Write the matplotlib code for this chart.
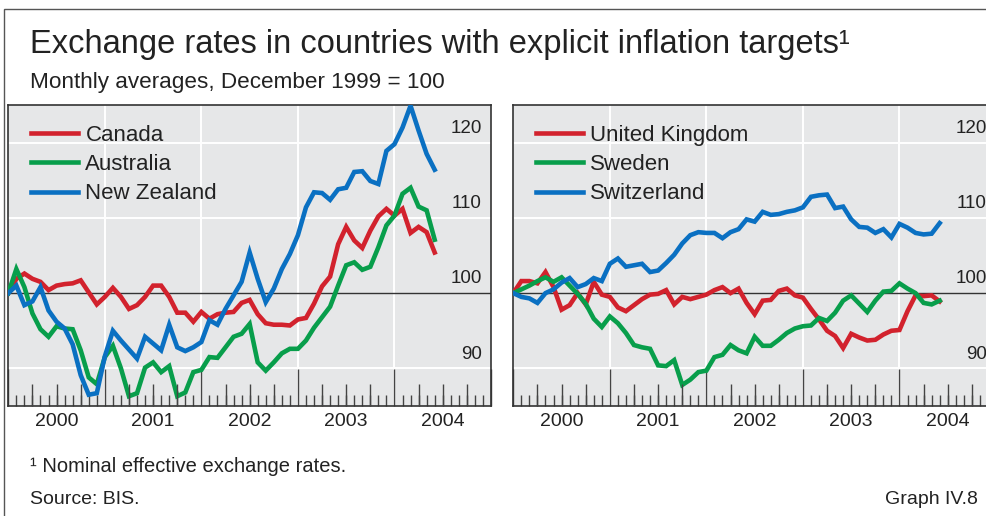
import numpy as np
import pandas as pd
import matplotlib
matplotlib.use('Agg')
import matplotlib.pyplot as plt
from matplotlib.patches import Rectangle

plt.rcParams['font.family'] = ['Liberation Sans', 'DejaVu Sans']

# Monthly averages, Dec 1999 = 100 (Dec 1999 .. May 2004)
months = pd.date_range('1999-12-01', periods=54, freq='MS')

canada = [100, 101.9, 102.6, 101.9, 101.5, 100.4, 101.0, 101.2, 101.3, 101.7,
          100.1, 98.5, 99.5, 100.7, 99.5, 97.9, 98.4, 99.5, 101.0, 101.0,
          99.5, 97.4, 97.4, 96.2, 97.5, 96.6, 97.2, 97.4, 97.5, 98.7,
          99.1, 97.2, 96.0, 95.8, 95.8, 95.7, 96.5, 96.7, 98.6, 100.9,
          102.2, 106.5, 108.8, 107.0, 106.0, 108.3, 110.2, 111.2, 110.3, 111.2,
          108.0, 108.8, 108.1, 105.4]
australia = [100, 103.2, 100.8, 97.3, 95.2, 94.2, 95.6, 95.3, 95.2, 92.4,
             88.8, 87.9, 91.5, 93.0, 90.0, 86.3, 86.7, 90.1, 90.8, 89.5,
             90.3, 86.3, 86.8, 89.5, 89.8, 91.5, 91.4, 92.8, 94.2, 94.6,
             95.9, 90.8, 89.7, 90.8, 92.0, 92.6, 92.6, 93.7, 95.4, 96.8,
             98.2, 101.0, 103.7, 104.1, 103.1, 103.5, 106.1, 109.0, 110.3, 113.2,
             114.0, 111.5, 111.0, 107.1]
new_zealand = [100, 101.0, 98.4, 98.9, 100.8, 97.7, 96.2, 95.3, 93.2, 89.1,
               86.5, 86.7, 91.6, 95.0, 93.7, 92.5, 91.3, 94.2, 93.3, 92.4,
               95.8, 92.8, 92.3, 92.8, 93.5, 96.4, 95.8, 97.9, 99.7, 101.5,
               105.4, 101.9, 98.8, 100.6, 103.2, 105.2, 107.7, 111.4, 113.4, 113.3,
               112.4, 113.8, 114.0, 116.1, 116.2, 114.9, 114.5, 118.9, 119.8, 122.0,
               124.9, 121.6, 118.5, 116.4]
united_kingdom = [100, 101.6, 101.6, 101.3, 102.8, 100.8, 97.8, 98.4, 100.0, 98.5,
                  101.5, 99.8, 99.5, 98.1, 97.6, 98.4, 99.2, 99.8, 99.9, 100.4,
                  98.5, 99.5, 99.2, 99.5, 99.8, 100.4, 100.8, 100.0, 100.6, 98.7,
                  97.2, 99.0, 99.1, 100.3, 100.6, 99.7, 99.4, 97.9, 96.5, 95.0,
                  94.3, 92.7, 94.6, 94.1, 93.7, 93.8, 94.5, 95.0, 95.1, 97.6,
                  99.7, 99.6, 99.7, 98.9]
sweden = [100, 100.5, 101.0, 101.6, 102.1, 101.5, 102.1, 101.0, 99.9, 98.6,
          96.6, 95.5, 96.9, 96.0, 94.7, 93.1, 92.8, 92.6, 90.4, 90.3,
          91.1, 87.8, 88.5, 89.5, 89.7, 91.5, 91.8, 93.1, 92.4, 92.0,
          94.2, 93.0, 93.0, 93.8, 94.7, 95.3, 95.6, 95.7, 96.7, 96.3,
          97.4, 99.0, 99.7, 98.6, 97.5, 99.0, 100.2, 100.3, 101.3, 100.6,
          100.0, 98.7, 98.5, 99.0]
switzerland = [100, 99.5, 99.3, 98.7, 100.0, 100.5, 101.4, 102.0, 100.8, 101.2,
               102.0, 101.6, 103.9, 104.6, 103.5, 103.7, 103.9, 102.8, 103.0, 104.0,
               105.1, 106.6, 107.7, 108.1, 108.0, 108.0, 107.3, 108.1, 108.5, 109.8,
               109.5, 110.8, 110.4, 110.5, 110.8, 111.0, 111.4, 112.8, 113.0, 113.1,
               111.3, 111.5, 109.8, 108.8, 108.7, 108.0, 108.5, 107.4, 109.2, 108.7,
               108.0, 107.8, 107.9, 109.3]

years = [2000, 2001, 2002, 2003, 2004]
y_ticks = [90, 100, 110, 120]

panels = [
    (['Canada', 'Australia', 'New Zealand'], [canada, australia, new_zealand]),
    (['United Kingdom', 'Sweden', 'Switzerland'], [united_kingdom, sweden, switzerland]),
]
colors = ['#d2222d', '#089e4b', '#0a70c2']

xpos = months.year + months.month / 12.0

fig = plt.figure(figsize=(9.86, 5.16), dpi=100)
W, H = 986.0, 516.0

# outer frame
fig.add_artist(Rectangle((4 / W, -0.1), 1.2, (H - 9) / H + 0.1, transform=fig.transFigure,
                         fill=False, edgecolor='#555555', lw=1.0))

txt = '#222222'
fig.text(30 / W, 1 - 45 / H, 'Exchange rates in countries with explicit inflation targets\u00b9',
         fontsize=23.5, color=txt, va='center', ha='left')
fig.text(30 / W, 1 - 82 / H, 'Monthly averages, December 1999 = 100',
         fontsize=16.2, color=txt, va='center', ha='left')
fig.text(30 / W, 1 - 467 / H, '\u00b9 Nominal effective exchange rates.',
         fontsize=14.5, color=txt, va='center', ha='left')
fig.text(30 / W, 1 - 500 / H, 'Source: BIS.', fontsize=14, color=txt, va='center', ha='left')
fig.text(978 / W, 1 - 500 / H, 'Graph IV.8', fontsize=14, color=txt, va='center', ha='right')

ax_w = 482.7 / W
ax_h = 301 / H
ax_b = 1 - 406 / H
for left_px, (names, series) in zip([8.3, 513.3], panels):
    ax = fig.add_axes([left_px / W, ax_b, ax_w, ax_h])
    ax.set_facecolor('#e6e7e8')
    ax.set_xlim(2000, 2005)
    ax.set_ylim(85, 125)
    for yt in y_ticks:
        if yt == 100:
            ax.axhline(yt, color='#333333', lw=1.0, zorder=2)
        else:
            ax.axhline(yt, color='white', lw=1.4, zorder=1)
        ax.text(0.981, yt + 1.9, str(yt), transform=ax.get_yaxis_transform(),
                ha='right', va='center', fontsize=13.5, color=txt)
    for yr in years[1:]:
        ax.axvline(yr, color='white', lw=1.4, zorder=1)
    for name, vals, c in zip(names, series, colors):
        ax.plot(xpos, vals, color=c, lw=3.3, label=name, zorder=3,
                solid_joinstyle='miter')
    # ticks: years long, quarters medium, months short
    ax.set_xticks(years + [2005])
    ax.set_xticks(np.arange(2000, 2005, 1 / 12), minor=True)
    ax.tick_params(axis='x', which='major', direction='in', length=27, width=1.0,
                   color='#444444', labelbottom=False)
    ax.tick_params(axis='x', which='minor', direction='in', length=7.7, width=1.0,
                   color='#444444')
    quarters = [y + q / 4 for y in years for q in (1, 2, 3)]
    ax.vlines(quarters, 0, 22 / 301, transform=ax.get_xaxis_transform(),
              color='#444444', lw=1.0, zorder=4)
    ax.set_yticks([])
    for yr in years:
        ax.text(yr + 0.5, -0.053, str(yr), transform=ax.get_xaxis_transform(),
                ha='center', va='center', fontsize=14, color=txt)
    for s in ax.spines.values():
        s.set_color('#333333')
        s.set_linewidth(1.2)
    ax.legend(loc='upper left', bbox_to_anchor=(0.047, 0.935), borderaxespad=0,
              borderpad=0, frameon=False, fontsize=16, handlelength=2.1,
              handletextpad=0.35, labelspacing=0.38, labelcolor=txt)

fig.savefig('out.png', dpi=100)
